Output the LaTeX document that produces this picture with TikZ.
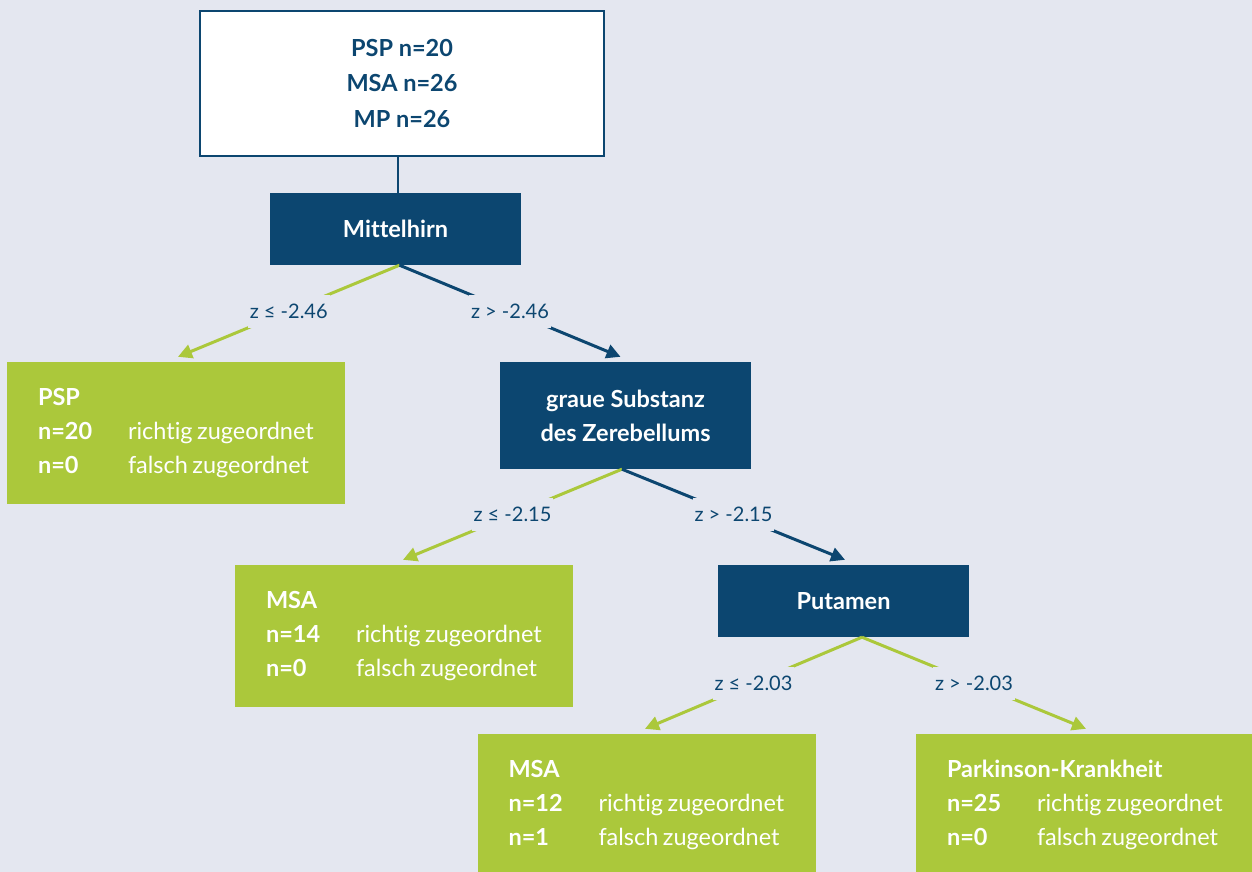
\documentclass[tikz,border=0pt]{standalone}
\usepackage{fontspec}
\setmainfont{Lato}[Ligatures=NoCommon]
\usetikzlibrary{arrows.meta,calc}
\definecolor{bgc}{HTML}{E4E7F0}
\definecolor{navy}{HTML}{0C4670}
\definecolor{lime}{HTML}{ABC83B}
\newcommand{\leafrow}[2]{\mbox{\makebox[90pt][l]{\bfseries #1}#2}}
\newcommand{\rz}{richtig\hspace{4.5pt}zugeordnet}
\newcommand{\fz}{falsch\hspace{4.5pt}zugeordnet}
\begin{document}
\begin{tikzpicture}[x=1pt,y=-1pt,
 rootbox/.style={draw=navy, line width=2.5pt, fill=white, text=navy,
   font=\fontsize{23.5}{35.5}\selectfont\bfseries, align=center,
   minimum width=404pt, minimum height=145pt, inner sep=0pt},
 feature/.style={fill=navy, text=white, font=\fontsize{23.5}{34}\selectfont\bfseries,
   align=center, minimum width=251pt, minimum height=72pt, inner sep=0pt},
 leaf/.style={fill=lime, text=white, font=\fontsize{23.5}{34}\selectfont,
   minimum width=338pt, minimum height=142pt, inner sep=0pt, text width=276pt, align=left},
 cond/.style={fill=bgc, text=navy, font=\fontsize{20}{22}\selectfont,
   inner xsep=2pt, inner ysep=0pt, minimum height=33pt},
 yesarrow/.style={draw=lime, line width=3pt, -{Triangle[length=14pt,width=14pt]}},
 noarrow/.style={draw=navy, line width=3pt, -{Triangle[length=14pt,width=14pt]}}
]
\fill[bgc] (0,0) rectangle (1252,872);
\useasboundingbox (0,0) rectangle (1252,872);
\clip (0,0) rectangle (1252,872);

\node[rootbox] (root) at (402,83.5) {PSP n=20\\MSA n=26\\MP n=26};
\node[feature] (mittel) at (395.5,229) {Mittelhirn};
\node[leaf] (psp) at (176,433) {\mbox{\bfseries PSP}\\\leafrow{n=20}{\rz}\\\leafrow{n=0}{\fz}};
\node[feature, minimum height=107pt] (graue) at (625.5,415.5) {graue Substanz\\des Zerebellums};
\node[leaf] (msa1) at (404,636) {\mbox{\bfseries MSA}\\\leafrow{n=14}{\rz}\\\leafrow{n=0}{\fz}};
\node[feature] (put) at (843.5,601) {Putamen};
\node[leaf] (msa2) at (646.5,805) {\mbox{\bfseries MSA}\\\leafrow{n=12}{\rz}\\\leafrow{n=1}{\fz}};
\node[leaf] (park) at (1085,805) {\mbox{\bfseries Parkinson-Krankheit}\\\leafrow{n=25}{\rz}\\\leafrow{n=0}{\fz}};

\coordinate (rt) at ($(mittel.north)+(2.5,0)$);
\draw[navy, line width=2pt] (rt) -- (rt |- root.south);

\coordinate (m0) at ($(mittel.south)+(4,0)$);
\coordinate (g0) at ($(graue.south)+(-3.5,0)$);
\coordinate (p0) at ($(put.south)+(18.5,0)$);

\draw[yesarrow] (m0) -- node[cond, midway] {z ≤ -2.46} ($(psp.north)+(2,-5)$);
\draw[noarrow] (m0) -- node[cond, midway] {z > -2.46} ($(graue.north)+(-5,-5)$);
\draw[yesarrow] (g0) -- node[cond, midway] {z ≤ -2.15} ($(msa1.north)+(-1,-5)$);
\draw[noarrow] (g0) -- node[cond, midway] {z > -2.15} ($(put.north)+(1.5,-5)$);
\draw[yesarrow] (p0) -- node[cond, midway] {z ≤ -2.03} ($(msa2.north)+(-1.5,-5)$);
\draw[yesarrow] (p0) -- node[cond, midway] {z > -2.03} ($(park.north)+(1,-5)$);
\end{tikzpicture}
\end{document}
